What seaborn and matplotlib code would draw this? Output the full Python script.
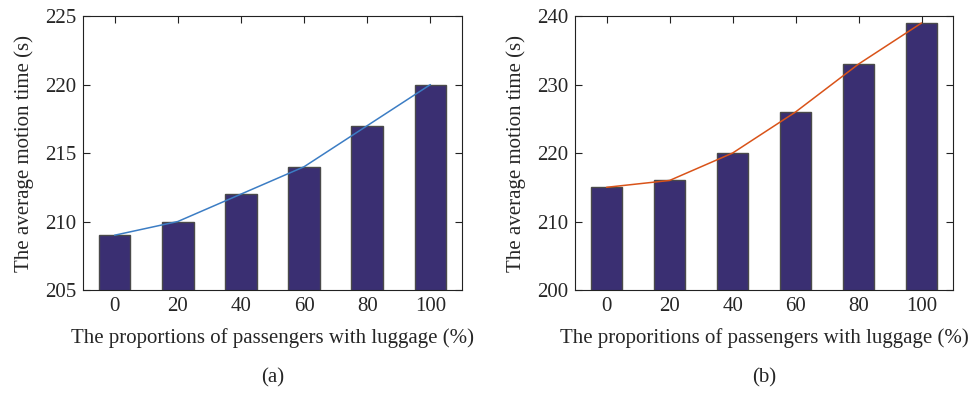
import numpy as np
import pandas as pd
import matplotlib
matplotlib.use("Agg")
import matplotlib.pyplot as plt
import seaborn as sns

proportions = ["0", "20", "40", "60", "80", "100"]
times_a = [209, 210, 212, 214, 217, 220]
times_b = [215, 216, 220, 226, 233, 239]

sns.set_theme(style="ticks")
plt.rcParams['font.family'] = ['Liberation Serif', 'DejaVu Serif']
plt.rcParams['xtick.direction'] = 'in'
plt.rcParams['ytick.direction'] = 'in'

fig = plt.figure(figsize=(9.69, 3.94), dpi=100)
ax1 = fig.add_axes([0.0857, 0.264, 0.391, 0.695])
ax2 = fig.add_axes([0.5935, 0.264, 0.390, 0.695])

bar_color = "#3a2f72"
edge_color = "#4a4a4a"

panels = [
    (ax1, times_a, "#3c7dc4", (205, 225), [205, 210, 215, 220, 225],
     "The proportions of passengers with luggage (%)", "(a)"),
    (ax2, times_b, "#d95319", (200, 240), [200, 210, 220, 230, 240],
     "The proporitions of passengers with luggage (%)", "(b)"),
]

for ax, vals, lc, ylim, yticks, xlabel, tag in panels:
    df = pd.DataFrame({"p": proportions, "t": vals})
    sns.barplot(data=df, x="p", y="t", ax=ax, color=bar_color, width=0.5,
                edgecolor=edge_color, linewidth=1.0, saturation=1)
    ax.plot(np.arange(len(vals)), vals, color=lc, linewidth=1.1)
    ax.set_ylim(*ylim)
    ax.set_xlim(-0.5, 5.5)
    ax.set_yticks(yticks)
    ax.set_xlabel(xlabel, fontsize=15, labelpad=9)
    ax.set_ylabel("The average motion time (s)", fontsize=15, labelpad=8)
    ax.tick_params(axis='both', labelsize=15, length=5, width=0.8,
                   top=True, right=True, color="#222222", pad=5)
    for s in ax.spines.values():
        s.set_visible(True)
        s.set_linewidth(0.8)
        s.set_color("#222222")
    ax.text(0.5, -0.32, tag, transform=ax.transAxes, ha="center", va="center",
            fontsize=15)

fig.savefig("out.png", dpi=100)
